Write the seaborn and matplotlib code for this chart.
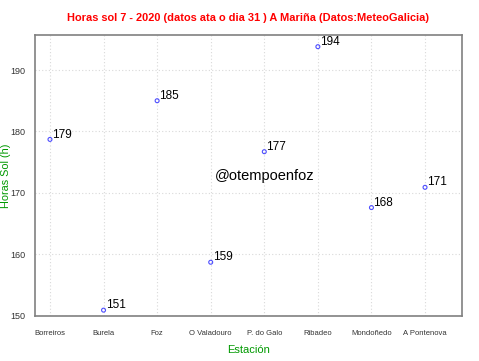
import matplotlib
matplotlib.use("Agg")
import matplotlib.pyplot as plt
import seaborn as sns
import pandas as pd

stations = ["Borreiros", "Burela", "Foz", "O Valadouro", "P. do Galo", "Ribadeo", "Mondoñedo", "A Pontenova"]
hours = [178.7, 150.9, 185.0, 158.7, 176.7, 193.8, 167.6, 170.9]
labels = ["179", "151", "185", "159", "177", "194", "168", "171"]
yticks = [150, 160, 170, 180, 190]

sns.set_style("white")
plt.rcParams["font.family"] = ["Liberation Sans", "DejaVu Sans"]

df = pd.DataFrame({"Estación": stations, "Horas": hours})

fig = plt.figure(figsize=(4.79, 3.61), dpi=100)
ax = fig.add_axes([0.073, 0.1247, 0.8915, 0.7783])

sns.scatterplot(data=df, x="Estación", y="Horas", ax=ax, marker="o", s=8,
                facecolors="none", edgecolor="#4d4dff", linewidth=0.8, zorder=3)

for i, (v, lab) in enumerate(zip(hours, labels)):
    ax.annotate(lab, (i, v), xytext=(1.5, 3.5), textcoords="offset points",
                fontsize=8.5, color="black", ha="left", va="center")

ax.set_xlim(-0.28, 7.69)
ax.set_ylim(149.95, 195.7)
ax.set_yticks(yticks)
ax.set_xticks(range(len(stations)))
ax.set_xticklabels(stations, fontsize=5.5, color="#333333")
ax.set_yticklabels([str(t) for t in yticks], fontsize=6.5, color="#333333")
ax.grid(True, color="#d9d9d9", linestyle=(0, (1, 2)), linewidth=0.8)
ax.set_axisbelow(True)
for sp in ax.spines.values():
    sp.set_color("#808080")
    sp.set_linewidth(1.2)
ax.tick_params(axis="both", direction="out", length=4, width=0.8, color="#808080", pad=3)
ax.tick_params(axis="x", pad=6)

ax.set_xlabel("Estación", fontsize=8, color="#009900", labelpad=6)
ax.set_ylabel("Horas Sol (h)", fontsize=7.8, color="#009900")
ax.yaxis.set_label_coords(-0.055, 0.498)
fig.suptitle("Horas sol 7 - 2020 (datos ata o dia 31 ) A Mariña (Datos:MeteoGalicia)",
             x=0.518, y=0.963, fontsize=7.9, fontweight="bold", color="#ff0000")

ax.text(0.539, 0.50, "@otempoenfoz", transform=ax.transAxes, fontsize=10.5,
        color="black", ha="center", va="center")

fig.savefig("out.png", dpi=100)
